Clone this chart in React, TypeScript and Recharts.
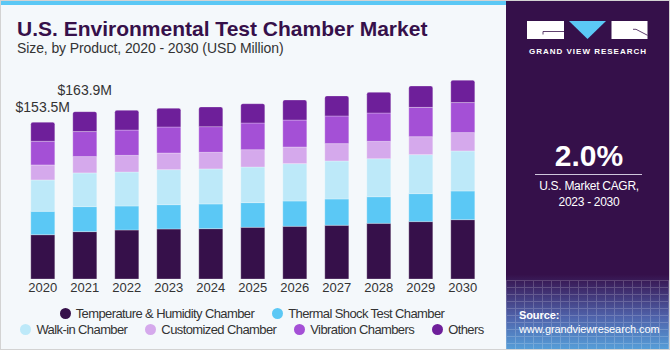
import React from "react";
import { BarChart, Bar, XAxis, YAxis, LabelList } from "recharts";

const YEARS = ["2020", "2021", "2022", "2023", "2024", "2025", "2026", "2027", "2028", "2029", "2030"];
const TEMP_HUMIDITY = [43.4, 46.4, 48.0, 49.0, 49.3, 50.6, 51.6, 52.6, 54.5, 56.2, 58.1];
const THERMAL_SHOCK = [22.9, 24.5, 23.5, 23.8, 24.2, 24.2, 24.8, 25.8, 26.1, 27.4, 28.1];
const WALK_IN = [30.7, 33.0, 33.3, 34.3, 34.3, 34.9, 36.6, 37.2, 37.2, 38.2, 39.2];
const CUSTOMIZED = [14.7, 16.0, 16.3, 16.3, 16.3, 17.0, 16.3, 17.0, 17.0, 17.6, 18.0];
const VIBRATION = [23.2, 24.5, 24.8, 25.5, 25.1, 26.1, 26.4, 27.1, 27.8, 28.7, 29.4];
const OTHERS = [18.6, 19.5, 19.3, 18.3, 19.3, 18.9, 19.6, 19.6, 20.2, 20.9, 21.9];
// totals are only printed above the first two bars
const LABELED_YEARS = ["2020", "2021"];

const SERIES = [
  { key: "temp", name: "Temperature & Humidity Chamber", color: "#36104a", values: TEMP_HUMIDITY },
  { key: "thermal", name: "Thermal Shock Test Chamber", color: "#5bc8f5", values: THERMAL_SHOCK },
  { key: "walkin", name: "Walk-in Chamber", color: "#bde9f9", values: WALK_IN },
  { key: "custom", name: "Customized Chamber", color: "#d5a9ec", values: CUSTOMIZED },
  { key: "vibration", name: "Vibration Chambers", color: "#a450d6", values: VIBRATION },
  { key: "others", name: "Others", color: "#6e1f9a", values: OTHERS },
];

const data = YEARS.map((year, i) => {
  const row: Record<string, string | number> = { year };
  SERIES.forEach((s) => (row[s.key] = s.values[i]));
  row.total = SERIES.reduce((acc, s) => acc + s.values[i], 0);
  return row;
});

const FONT = "'Liberation Sans', Arial, sans-serif";

function TotalLabel(props: any) {
  const { x, y, width, index } = props;
  const year = YEARS[index];
  if (!LABELED_YEARS.includes(year)) return null;
  const total = data[index].total as number;
  const gap = index === 0 ? 10 : 17;
  return (
    <text
      x={x + width / 2}
      y={y - gap}
      textAnchor="middle"
      fontSize={14}
      fontFamily={FONT}
      fill="#333"
    >
      {`$${total.toFixed(1)}M`}
    </text>
  );
}

function LegendContent() {
  const rows = [SERIES.slice(0, 2), SERIES.slice(2)];
  return (
    <div style={{ fontFamily: FONT, fontSize: 13, color: "#333", letterSpacing: -0.6 }}>
      {rows.map((row, r) => (
        <div
          key={r}
          style={{ display: "flex", justifyContent: "center", gap: 18, height: 16, alignItems: "center" }}
        >
          {row.map((s) => (
            <div key={s.key} style={{ display: "flex", alignItems: "center" }}>
              <span
                style={{
                  width: 11,
                  height: 11,
                  borderRadius: "50%",
                  background: s.color,
                  display: "inline-block",
                  marginRight: 5,
                }}
              />
              <span>{s.name}</span>
            </div>
          ))}
        </div>
      ))}
    </div>
  );
}

function Logo() {
  return (
    <svg width={164} height={60} style={{ position: "absolute", left: 0, top: 0 }}>
      <rect x={21} y={21} width={37} height={18} fill="#fff" />
      <path d="M37 31.5 H58 M37 31.5 V34.5" stroke="#36104a" strokeWidth={0.8} fill="none" />
      <polygon points="63,21 100,21 81.5,39" fill="#5bc8f5" />
      <rect x={105.5} y={21} width={36} height={18} fill="#fff" />
      <path d="M127 29.3 H130 L141.5 35.3" stroke="#36104a" strokeWidth={0.8} fill="none" />
      <text
        x={82}
        y={53.5}
        textAnchor="middle"
        fill="#fff"
        fontFamily={FONT}
        fontWeight="bold"
        fontSize={8}
        letterSpacing={1}
      >
        GRAND VIEW RESEARCH
      </text>
    </svg>
  );
}

export default function App() {
  return (
    <div
      style={{
        position: "absolute",
        left: 0,
        top: 0,
        width: 670,
        height: 350,
        background: "#f4f8fb",
        boxSizing: "border-box",
        border: "1px solid #d3d3d3",
        overflow: "hidden",
        fontFamily: FONT,
      }}
    >
      <div style={{ position: "absolute", left: 0, top: 0, width: 506, height: 4, background: "#5bc8f5" }} />
      <div
        style={{
          position: "absolute",
          left: 16,
          top: 16,
          fontWeight: "bold",
          fontSize: 21,
          color: "#36104a",
          whiteSpace: "nowrap",
        }}
      >
        U.S. Environmental Test Chamber Market
      </div>
      <div
        style={{
          position: "absolute",
          left: 16,
          top: 39,
          fontSize: 14,
          letterSpacing: -0.1,
          color: "#333",
          whiteSpace: "nowrap",
        }}
      >
        Size, by Product, 2020 - 2030 (USD Million)
      </div>

      <div style={{ position: "absolute", left: -1, top: -1 }}>
        <BarChart
          width={500}
          height={300}
          data={data}
          margin={{ top: 74.8, right: 16.2, bottom: 0, left: 21.8 }}
          barSize={24}
        >
          <XAxis
            dataKey="year"
            height={21}
            axisLine={false}
            tickLine={false}
            tickSize={0}
            tickMargin={4}
            interval={0}
            tick={{ fontSize: 13, fill: "#333", fontFamily: FONT }}
          />
          <YAxis hide domain={[0, 200]} />
          {SERIES.map((s, i) => (
            <Bar
              key={s.key}
              dataKey={s.key}
              name={s.name}
              stackId="a"
              fill={s.color}
              stroke="rgba(255,255,255,0.45)"
              strokeWidth={0.6}
              radius={i === SERIES.length - 1 ? [2, 2, 0, 0] : 0}
              isAnimationActive={false}
            >
              {i === SERIES.length - 1 && <LabelList dataKey="total" content={<TotalLabel />} />}
            </Bar>
          ))}
        </BarChart>
      </div>

      <div style={{ position: "absolute", left: -1, top: 304, width: 504 }}>
        <LegendContent />
      </div>

      <div
        style={{
          position: "absolute",
          left: 505,
          top: -1,
          width: 166,
          height: 352,
          background:
            "linear-gradient(to bottom, #35104a 0%, #35104a 78%, #3e2a6a 82%, #4f62aa 90%, #56a3dc 100%)",
          color: "#fff",
          textAlign: "center",
        }}
      >
        <div
          style={{
            position: "absolute",
            left: 0,
            top: 280,
            width: "100%",
            height: 72,
            opacity: 0.18,
            backgroundImage:
              "repeating-linear-gradient(to right, #fff 0 1px, transparent 1px 9px), repeating-linear-gradient(to bottom, #fff 0 1px, transparent 1px 7px)",
          }}
        />
        <Logo />
        <div style={{ position: "absolute", left: 0, width: "100%", top: 139, fontSize: 30, fontWeight: "bold" }}>
          2.0%
        </div>
        <div style={{ position: "absolute", left: 29, width: 107, top: 174, height: 1, background: "#cfc6dc" }} />
        <div
          style={{
            position: "absolute",
            left: 0,
            width: "100%",
            top: 178,
            fontSize: 12,
            lineHeight: "16px",
            letterSpacing: -0.3,
          }}
        >
          U.S. Market CAGR,
          <br />
          2023 - 2030
        </div>
        <div
          style={{
            position: "absolute",
            left: 13,
            top: 308,
            fontSize: 11,
            lineHeight: "14px",
            textAlign: "left",
            letterSpacing: -0.1,
          }}
        >
          <b>Source:</b>
          <br />
          www.grandviewresearch.com
        </div>
      </div>
    </div>
  );
}
